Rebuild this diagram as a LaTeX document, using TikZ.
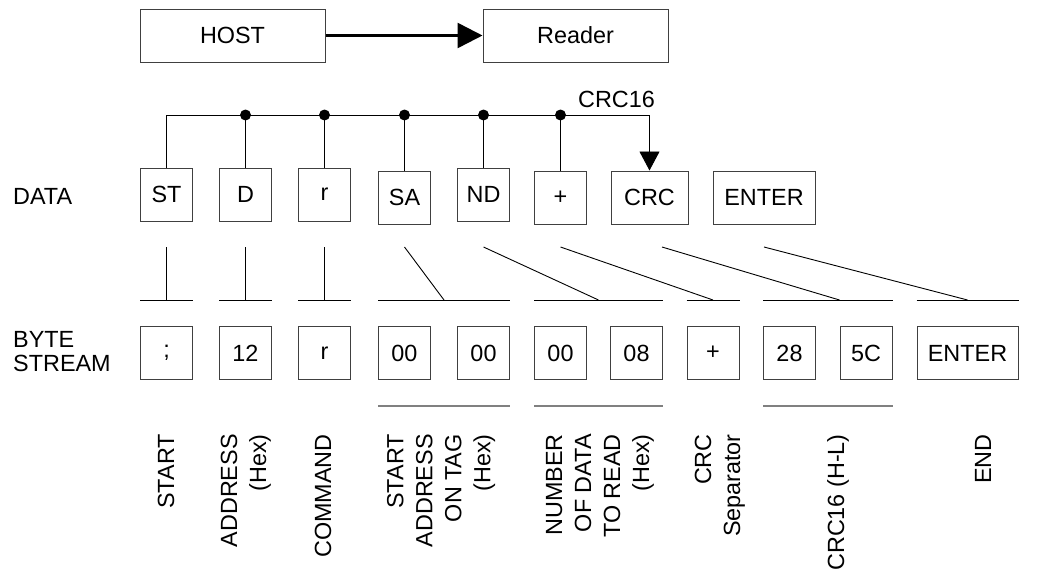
\documentclass[tikz,border=0pt]{standalone}
\usepackage{fontspec}
\setmainfont{Liberation Sans}
\usetikzlibrary{arrows.meta,calc}
\begin{document}
\begin{tikzpicture}[x=1pt,y=-1pt,
  every node/.style={font=\fontsize{23.4}{29}\selectfont, inner sep=0pt},
  bx/.style={draw=black!75, line width=1pt, minimum height=53pt, minimum width=52pt},
  wide/.style={bx, minimum width=#1},
  wire/.style={line width=0.9pt},
  grpbar/.style={draw=black!50, line width=1.3pt},
  vlabel/.style={rotate=90, anchor=east, align=right}]
\path[use as bounding box] (0,0) rectangle (1042,570);

% host and reader
\node[wide=185pt] (host) at (232.5,35.5) {HOST};
\node[wide=185pt] (reader) at (575.5,35.5) {Reader};
\draw[line width=2.5pt,-{Triangle[length=25pt,width=25pt]}] (host.east) -- (reader.west);

% data row
\node[anchor=west] (ldata) at (13,196) {DATA};
\node[bx] (st) at (166.5,194.5) {ST};
\node[bx] (d) at (245.5,194.5) {D};
\node[bx] (r) at (324.5,194.5) {r};
\node[bx] (sa) at (404.5,197.5) {SA};
\node[bx] (nd) at (483.5,194.5) {ND};
\node[bx] (plus) at (560.5,197.5) {+};
\node[wide=77pt] (crc) at (649.5,197.5) {CRC};
\node[wide=102pt] (enter) at (764,197.5) {ENTER};

% checksum bus
\coordinate (bus) at (0,115);
\node[anchor=west] (lcrc16) at (578,99) {CRC16};
\draw[wire,-{Triangle[length=19pt,width=20pt]}] (st.north) |- (crc.north |- bus) -- (crc.north);
\foreach \n in {d,r,sa,nd,plus}{
  \draw[wire] (\n.north) -- (\n.north |- bus);
  \fill (\n.north |- bus) circle (5.5pt);
}

% byte stream row
\node[anchor=west, align=left, font=\fontsize{23.4}{24}\selectfont] (lbyte) at (13,351.5) {BYTE\\STREAM};
\node[bx] (b1) at (166.5,353) {;};
\node[bx] (b2) at (245.5,353) {12};
\node[bx] (b3) at (324.5,353) {r};
\node[bx] (b4) at (404.5,353) {00};
\node[bx] (b5) at (483.5,353) {00};
\node[bx] (b6) at (560.5,353) {00};
\node[bx] (b7) at (636.5,353) {08};
\node[bx] (b8) at (713,353) {+};
\node[bx] (b9) at (789.5,353) {28};
\node[bx] (b10) at (866,353) {5C};
\node[wide=101pt] (b11) at (967.5,353) {ENTER};

% mapping from data fields to bytes
\coordinate (tp) at (0,247);
\coordinate (bt) at (0,300);
\coordinate (m45) at ($(b4.west)!0.5!(b5.east)$);
\coordinate (m67) at ($(b6.west)!0.5!(b7.east)$);
\coordinate (crctap) at ($(crc.center)+(12.5,0)$);
\foreach \a/\b in {st/b1,d/b2,r/b3}{
  \draw[wire] (\a.center |- tp) -- (\a.center |- bt);
  \draw[wire] (\b.west |- bt) -- (\b.east |- bt);
}
\draw[wire] (b4.west |- bt) -- (b5.east |- bt);
\draw[wire] (b6.west |- bt) -- (b7.east |- bt);
\draw[wire] (b8.west |- bt) -- (b8.east |- bt);
\draw[wire] (b9.west |- bt) -- (b10.east |- bt);
\draw[wire] (b11.west |- bt) -- (b11.east |- bt);
\draw[wire] (sa.center |- tp) -- (m45 |- bt);
\draw[wire] (nd.center |- tp) -- (m67 |- bt);
\draw[wire] (plus.center |- tp) -- (b8.center |- bt);
\draw[wire] (crctap |- tp) -- (b10.west |- bt);
\draw[wire] (enter.center |- tp) -- (b11.center |- bt);

% grouping bars under multi-byte fields
\coordinate (gb) at (0,406);
\draw[grpbar] (b4.west |- gb) -- (b5.east |- gb);
\draw[grpbar] (b6.west |- gb) -- (b7.east |- gb);
\draw[grpbar] (b9.west |- gb) -- (b10.east |- gb);

% field descriptions
\node[vlabel] (lstart) at (166,434) {START};
\node[vlabel] (laddr) at (246,434) {ADDRESS\\(Hex)};
\node[vlabel] (lcmd) at (323,434) {COMMAND};
\node[vlabel] (lsa) at (441,434) {START\\ADDRESS\\ON TAG\\(Hex)};
\node[vlabel] (lnd) at (600,434) {NUMBER\\OF DATA\\TO READ\\(Hex)};
\node[vlabel] (lsep) at (720,434) {CRC\\Separator};
\node[vlabel] (lcrcl) at (838,434) {CRC16 (H-L)};
\node[vlabel] (lend) at (983,434) {END};
\end{tikzpicture}
\end{document}
